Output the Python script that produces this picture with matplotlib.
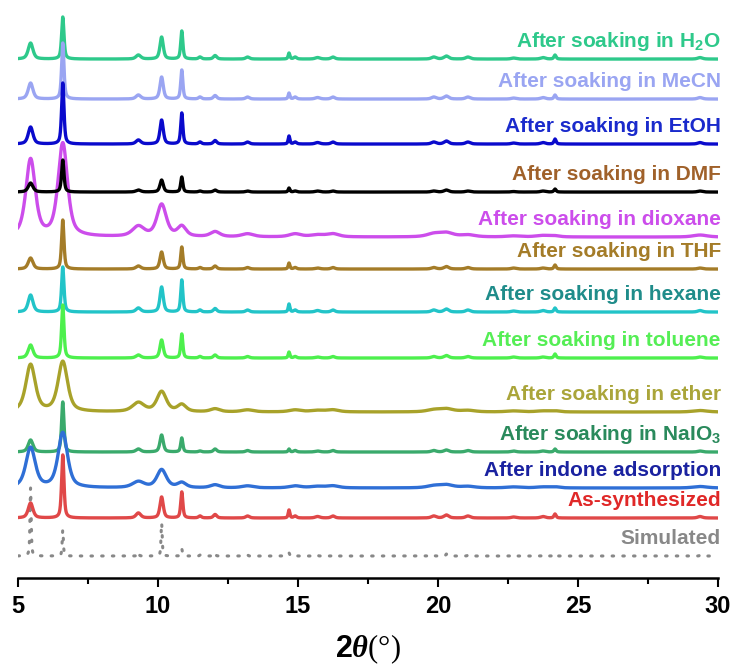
import matplotlib
matplotlib.use("Agg")
import matplotlib.pyplot as plt
import numpy as np

plt.rcParams['mathtext.fontset'] = 'custom'
plt.rcParams['mathtext.rm'] = 'Liberation Sans:bold'
plt.rcParams['mathtext.it'] = 'Liberation Serif:italic:bold'
plt.rcParams['mathtext.default'] = 'rm'

# peak positions (2theta, degrees)
positions = [5.45, 6.6, 9.3, 10.13, 10.85, 11.5, 12.04, 13.2, 14.68, 14.9,
             15.7, 16.25, 19.85, 20.3, 21.07, 22.7, 23.75, 24.18, 29.36]

# half widths for sharp and broad patterns
w_sharp = [0.1, 0.05, 0.1, 0.07, 0.045, 0.06, 0.07, 0.08, 0.035, 0.06,
           0.1, 0.08, 0.1, 0.1, 0.1, 0.1, 0.1, 0.045, 0.1]
w_broad = [0.2, 0.2, 0.25, 0.2, 0.18, 0.2, 0.2, 0.25, 0.2, 0.25,
           0.3, 0.25, 0.3, 0.3, 0.3, 0.3, 0.3, 0.2, 0.3]
w_sim = [0.025] * len(positions)

names = ["After soaking in H$_2$O", "After soaking in MeCN", "After soaking in EtOH",
         "After soaking in DMF", "After soaking in dioxane", "After soaking in THF",
         "After soaking in hexane", "After soaking in toluene", "After soaking in ether",
         "After soaking in NaIO$_3$", "After indone adsorption", "As-synthesized", "Simulated"]

# peak heights (pixels above each baseline)
h_h2o = [16, 42, 4, 22, 28, 2, 3.5, 2, 6, 2, 1.5, 2, 2, 3, 2, 1, 1.5, 4, 1.5]
h_mecn = [16, 56, 4, 22, 29, 2, 3.5, 2, 6, 2, 1.5, 2, 2, 3, 2, 1, 1.5, 4, 1.5]
h_etoh = [17, 61, 4, 24, 31, 2, 3.5, 2, 8, 2, 1.5, 2, 2, 3, 2, 1, 1.5, 5, 1.5]
h_dmf = [9, 32, 2, 12, 15, 1, 2, 1, 4, 1, 1, 1, 1, 2, 1, 0.5, 1, 3, 1]
h_dioxane = [77, 93, 10, 32, 10, 0, 5, 3, 0, 3, 2, 3, 3, 4, 2, 1, 1.5, 1, 2]
h_thf = [11, 49, 3, 17, 22, 1.5, 3, 1.5, 6, 1.5, 1, 1.5, 1.5, 2.5, 1.5, 1, 1, 4, 1]
h_hexane = [17, 45, 4, 25, 32, 2, 3.5, 2, 8, 2, 1.5, 2, 2, 3, 2, 1, 1.5, 4, 1.5]
h_toluene = [13, 53, 3, 18, 24, 1.5, 3, 1.5, 6, 1.5, 1, 1.5, 1.5, 2.5, 1.5, 1, 1, 4, 1]
h_ether = [47, 50, 9, 20, 7, 0, 3, 2, 0, 2, 1.5, 2, 2, 3, 1.5, 1, 1, 1, 1.5]
h_naio3 = [12, 50, 3, 17, 14, 1, 3, 1.5, 3, 1.5, 1, 1.5, 1.5, 2, 1.5, 1, 1, 3, 1]
h_indone = [40, 55, 6, 18, 5, 0, 3, 2, 0, 2, 1.5, 2, 2, 3, 1.5, 1, 1, 1, 1.5]
h_asyn = [15, 63, 5, 21, 26, 2, 3.5, 2, 8, 2, 1.5, 2, 2, 3, 2, 1, 1.5, 4, 1.5]
h_sim = [68, 26, 4, 33, 7, 1, 3, 1, 3, 1, 1, 1, 1, 2, 1, 1, 1, 2, 1]

heights = [h_h2o, h_mecn, h_etoh, h_dmf, h_dioxane, h_thf, h_hexane, h_toluene,
           h_ether, h_naio3, h_indone, h_asyn, h_sim]
offsets = [519, 479, 434, 386, 341, 309, 266, 220, 166, 126, 90, 60, 22]
kinds = ["s", "s", "s", "s", "b", "s", "s", "s", "b", "s", "b", "s", "sim"]

line_colors = ["#2ec98b", "#9aa5f2", "#0a0acc", "#000000", "#cc4deb", "#a47c28",
               "#22c4c8", "#4df04d", "#a8a22a", "#3aaa6c", "#2f6fd6", "#e04848", "#888888"]
label_colors = ["#2ec98b", "#9aa5f2", "#1a2acc", "#a0612a", "#cc4deb", "#a47c28",
                "#1f8c8a", "#55ee55", "#aaa53a", "#2a8a5c", "#1a22a0", "#e02828", "#888888"]
zorders = [1, 2, 3, 5, 4, 6, 7, 8, 9, 10, 11, 12, 0.5]


def profile(x, hts, widths):
    y = np.zeros_like(x)
    for p, h, g in zip(positions, hts, widths):
        u = (x - p) / g
        y += h * (0.6 / (1 + u ** 2) + 0.4 * np.exp(-np.log(2) * u ** 2))
    return y


x = np.linspace(5, 30, 6001)

fig = plt.figure(figsize=(7.37, 6.71), dpi=100)
ax = fig.add_axes([0.0244, 0.1386, 0.9498, 0.8464])

for i in range(len(names)):
    w = {"s": w_sharp, "b": w_broad, "sim": w_sim}[kinds[i]]
    y = offsets[i] + profile(x, heights[i], w)
    if kinds[i] == "sim":
        ax.plot(x, y, color=line_colors[i], lw=2.2, linestyle=(0, (0.5, 3.0)),
                dash_capstyle="round", zorder=zorders[i])
    else:
        ax.plot(x, y, color=line_colors[i], lw=2.4, zorder=zorders[i])
    ax.text(30.1, offsets[i] + 18, names[i], color=label_colors[i], ha="right",
            va="center", fontsize=15, fontweight="bold", family="Liberation Sans",
            zorder=20)

ax.set_xlim(5, 30)
ax.set_ylim(0, 568)
ax.set_yticks([])
for s in ["left", "top", "right"]:
    ax.spines[s].set_visible(False)
ax.spines["bottom"].set_linewidth(1.8)
ax.set_xticks([5, 10, 15, 20, 25, 30])
ax.set_xticks([7.5, 12.5, 17.5, 22.5, 27.5], minor=True)
ax.tick_params(axis="x", which="major", length=6.5, width=1.5, direction="out", pad=6)
ax.tick_params(axis="x", which="minor", length=4, width=1.5, direction="out")
for lab in ax.get_xticklabels():
    lab.set_fontfamily("Liberation Sans")
    lab.set_fontweight("bold")
    lab.set_fontsize(17)
ax.set_xlabel(r"$\mathrm{2}\mathit{\theta}$(°)", fontsize=22, family="Liberation Serif",
              labelpad=10)

fig.savefig("out.png", dpi=100)
